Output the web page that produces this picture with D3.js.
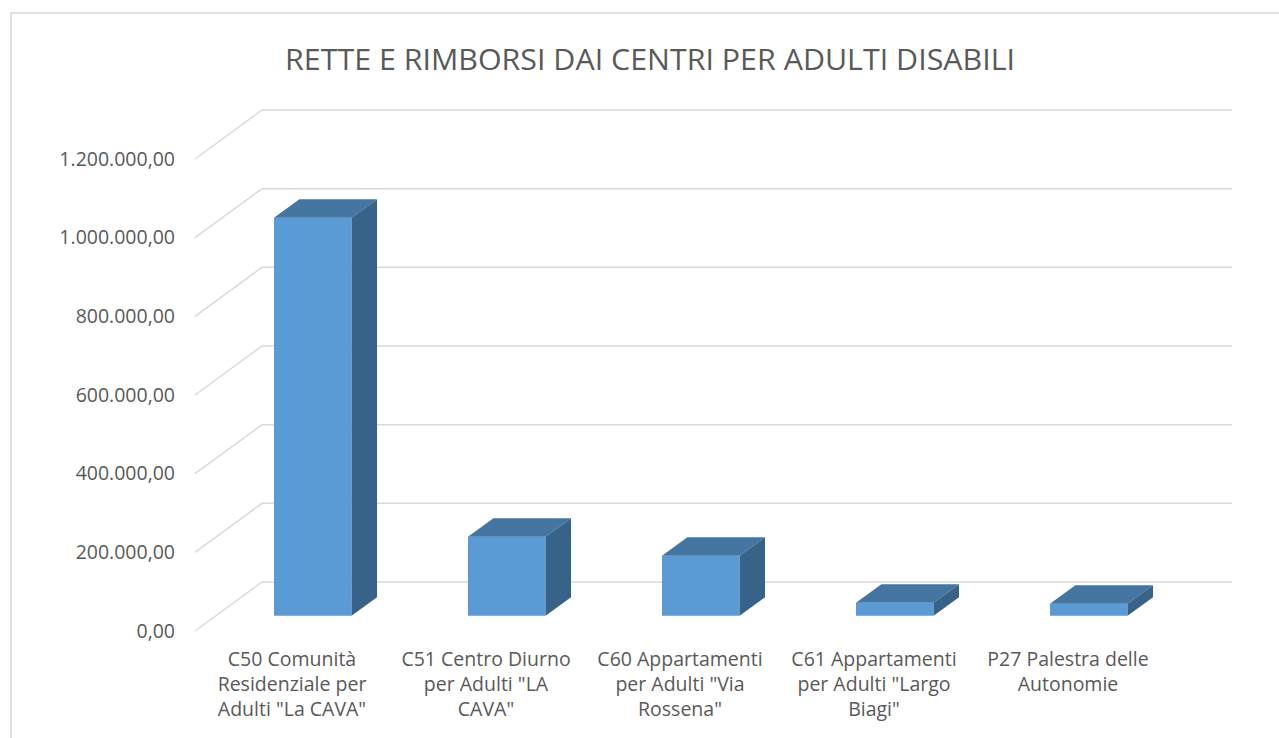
<!DOCTYPE html>
<html>
<head>
<meta charset="utf-8">
<script src="https://cdn.jsdelivr.net/npm/d3@7"></script>
<style>
  body { margin: 0; background: #fff; }
  svg { display: block; font-family: "Open Sans", sans-serif; }
</style>
</head>
<body>
<svg id="chart"></svg>
<script>
var width = 1279,
  height = 738;

var title = "RETTE E RIMBORSI DAI CENTRI PER ADULTI DISABILI";

var categories = [
  "C50 Comunità Residenziale per Adulti \"La CAVA\"",
  "C51 Centro Diurno per Adulti \"LA CAVA\"",
  "C60 Appartamenti per Adulti \"Via Rossena\"",
  "C61 Appartamenti per Adulti \"Largo Biagi\"",
  "P27 Palestra delle Autonomie"
];

var values = [1012000, 201000, 152500, 33000, 30500];

var yTicks = [0, 200000, 400000, 600000, 800000, 1000000, 1200000];

// 3d box: front plane + oblique depth
var left = 195,
  plotW = 970,
  depthX = 67,
  depthY = -49,
  barFront = 0.31,
  barBack = 0.69;

var it = d3.formatLocale({ decimal: ",", thousands: ".", grouping: [3], currency: ["", "€"] });
var fmt = it.format(",.2f");

var x = d3.scaleBand()
  .domain(categories)
  .range([0, plotW])
  .paddingInner(0.6)
  .paddingOuter(0.3);

var y = d3.scaleLinear()
  .domain([0, 1200000])
  .range([631, 159]);

function p(xf, v, d) {
  return [left + xf + d * depthX, y(v) + d * depthY];
}

function poly(pts) {
  return "M" + pts.map(function (q) { return q.join(","); }).join("L") + "Z";
}

var svg = d3.select("#chart")
  .attr("width", width)
  .attr("height", height);

// chart area border (cropped)
svg.append("path")
  .attr("d", "M11," + height + "L11,13L" + width + ",13")
  .attr("fill", "none")
  .attr("stroke", "#d9d9d9")
  .attr("stroke-width", 1.5);

svg.append("text")
  .attr("x", 650)
  .attr("y", 70)
  .attr("text-anchor", "middle")
  .attr("font-size", 30)
  .attr("fill", "#595959")
  .attr("textLength", 730)
  .attr("lengthAdjust", "spacingAndGlyphs")
  .text(title);

// gridlines: side wall diagonal + back wall
svg.append("g")
  .selectAll("path")
  .data(yTicks)
  .enter().append("path")
    .attr("d", function (t) {
      var a = p(0, t, 0), b = p(0, t, 1), c = p(plotW, t, 1);
      return "M" + a + "L" + b + "L" + c;
    })
    .attr("fill", "none")
    .attr("stroke", "#d9d9d9")
    .attr("stroke-width", 1.5);

svg.append("g")
  .selectAll("text")
  .data(yTicks)
  .enter().append("text")
    .attr("x", 175)
    .attr("y", function (t) { return y(t); })
    .attr("dy", "0.35em")
    .attr("text-anchor", "end")
    .attr("font-size", 19.5)
    .attr("fill", "#595959")
    .text(function (t) { return fmt(t); });

// bars
var bars = svg.append("g")
  .selectAll("g")
  .data(categories)
  .enter().append("g");

var bw = x.bandwidth();

bars.append("path")
  .attr("d", function (c, i) {
    var x0 = x(c), x1 = x0 + bw, v = values[i];
    return poly([p(x0, 0, barFront), p(x1, 0, barFront), p(x1, v, barFront), p(x0, v, barFront)]);
  })
  .attr("fill", "#5b9bd5");

bars.append("path")
  .attr("d", function (c, i) {
    var x0 = x(c), x1 = x0 + bw, v = values[i];
    return poly([p(x0, v, barFront), p(x1, v, barFront), p(x1, v, barBack), p(x0, v, barBack)]);
  })
  .attr("fill", "#4575a1");

bars.append("path")
  .attr("d", function (c, i) {
    var x1 = x(c) + bw, v = values[i];
    return poly([p(x1, 0, barFront), p(x1, 0, barBack), p(x1, v, barBack), p(x1, v, barFront)]);
  })
  .attr("fill", "#386389");

// category labels, wrapped
var labels = svg.append("g")
  .selectAll("text")
  .data(categories)
  .enter().append("text")
    .attr("x", function (c) { return left + x(c) + bw / 2; })
    .attr("y", 666)
    .attr("text-anchor", "middle")
    .attr("font-size", 19.5)
    .attr("fill", "#595959");

labels.each(function (c) {
  var el = d3.select(this),
    words = c.split(" "),
    line = [],
    maxW = x.step() * 0.93;
  var ts = el.append("tspan").attr("x", el.attr("x")).attr("dy", 0);
  words.forEach(function (w) {
    line.push(w);
    ts.text(line.join(" "));
    if (ts.node().getComputedTextLength() > maxW && line.length > 1) {
      line.pop();
      ts.text(line.join(" "));
      line = [w];
      ts = el.append("tspan").attr("x", el.attr("x")).attr("dy", "25px").text(w);
    }
  });
});
</script>
</body>
</html>
